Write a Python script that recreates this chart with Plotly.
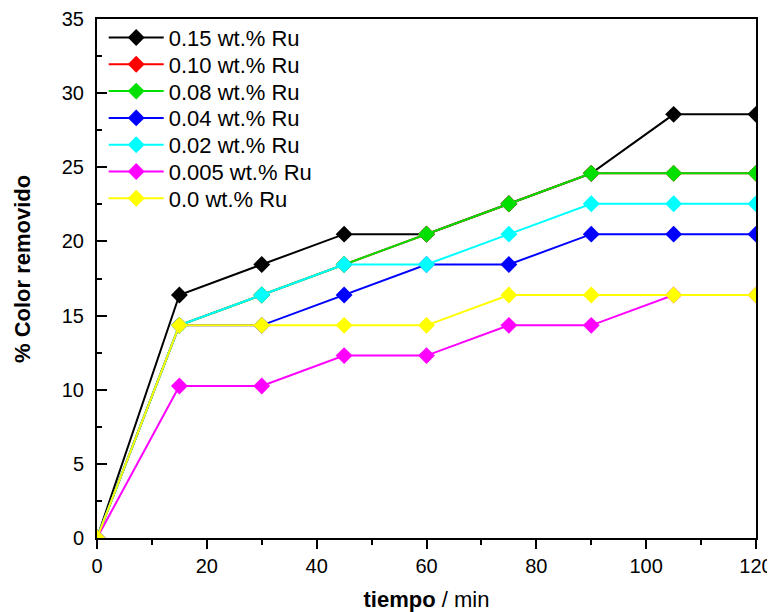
import plotly.graph_objects as go

tiempo = [0, 15, 30, 45, 60, 75, 90, 105, 120]

series_names = ["0.15 wt.% Ru", "0.10 wt.% Ru", "0.08 wt.% Ru", "0.04 wt.% Ru",
                "0.02 wt.% Ru", "0.005 wt.% Ru", "0.0 wt.% Ru"]
ru_015 = [0, 16.39, 18.44, 20.49, 20.49, 22.54, 24.59, 28.57, 28.57]
ru_010 = [0, 14.34, 16.39, 18.44, 20.49, 22.54, 24.59, 24.59, 24.59]
ru_008 = [0, 14.34, 16.39, 18.44, 20.49, 22.54, 24.59, 24.59, 24.59]
ru_004 = [0, 14.34, 14.34, 16.39, 18.44, 18.44, 20.49, 20.49, 20.49]
ru_002 = [0, 14.34, 16.39, 18.44, 18.44, 20.49, 22.54, 22.54, 22.54]
ru_0005 = [0, 10.25, 10.25, 12.30, 12.30, 14.34, 14.34, 16.39, 16.39]
ru_000 = [0, 14.34, 14.34, 14.34, 14.34, 16.39, 16.39, 16.39, 16.39]

series_values = [ru_015, ru_010, ru_008, ru_004, ru_002, ru_0005, ru_000]
colors = ["#000000", "#ff0000", "#00e000", "#0000ff", "#00ffff", "#ff00ff", "#ffff00"]

FONT = "Liberation Sans, Arial, sans-serif"

# page body has an 8px default margin; compensate so the plot lands where the reference has it
BODY = 8
W, H = 775 - BODY, 612 - BODY
PLOT_L, PLOT_R, PLOT_T, PLOT_B = 97, 756, 18, 538  # target window pixels
ML, MT = PLOT_L - BODY, PLOT_T - BODY
PW, PH = PLOT_R - PLOT_L, PLOT_B - PLOT_T
MR, MB = W - ML - PW, H - MT - PH

fig = go.Figure()
legend_layouts = {}
for i, (name, vals, col) in enumerate(zip(series_names, series_values, colors)):
    lname = "legend" if i == 0 else f"legend{i + 1}"
    fig.add_trace(go.Scatter(
        x=tiempo, y=vals, name=name, mode="lines+markers",
        line=dict(color=col, width=2),
        marker=dict(symbol="diamond", size=13, color=col, line=dict(width=0)),
        legend=lname,
    ))
    row_center_px = 37.7 + 26.8 * i
    legend_layouts[lname] = dict(
        x=(103.7 - PLOT_L) / PW, y=(PLOT_B - row_center_px) / PH,
        xanchor="left", yanchor="middle",
        bgcolor="rgba(0,0,0,0)", borderwidth=0,
        font=dict(family=FONT, size=22, color="black"),
        itemwidth=55,
    )

fig.update_layout(
    width=W, height=H,
    margin=dict(l=ML, r=MR, t=MT, b=MB),
    paper_bgcolor="white", plot_bgcolor="white",
    font=dict(family=FONT, size=20, color="black"),
    showlegend=True,
    **legend_layouts,
    annotations=[dict(
        text="<b>% Color removido</b>", xref="paper", yref="paper",
        x=(22 - PLOT_L) / PW, y=(PLOT_B - 268.5) / PH,
        xanchor="center", yanchor="middle", textangle=-90, showarrow=False,
        font=dict(family=FONT, size=22, color="black"),
    )],
)

fig.update_xaxes(
    range=[0, 120], tickmode="array", tickvals=[0, 20, 40, 60, 80, 100, 120],
    showgrid=False, zeroline=False, automargin=False,
    showline=True, linecolor="black", linewidth=2, mirror=True,
    ticks="outside", ticklen=9, tickwidth=2, tickcolor="black",
    minor=dict(ticks="outside", ticklen=5, tickwidth=2, tickcolor="black", dtick=10, showgrid=False),
    tickfont=dict(family=FONT, size=20, color="black"),
    title=dict(text="<b>tiempo</b> / min", font=dict(family=FONT, size=22, color="black"), standoff=16),
)
fig.update_yaxes(
    range=[0, 35], tickmode="array", tickvals=[0, 5, 10, 15, 20, 25, 30, 35],
    showgrid=False, zeroline=False, automargin=False,
    showline=True, linecolor="black", linewidth=2, mirror=True,
    ticks="inside", ticklen=10, tickwidth=2, tickcolor="black",
    minor=dict(ticks="inside", ticklen=5, tickwidth=2, tickcolor="black", dtick=2.5, showgrid=False),
    tickfont=dict(family=FONT, size=20, color="black"),
    ticklabelstandoff=7,
)

fig.write_html("out.html")
